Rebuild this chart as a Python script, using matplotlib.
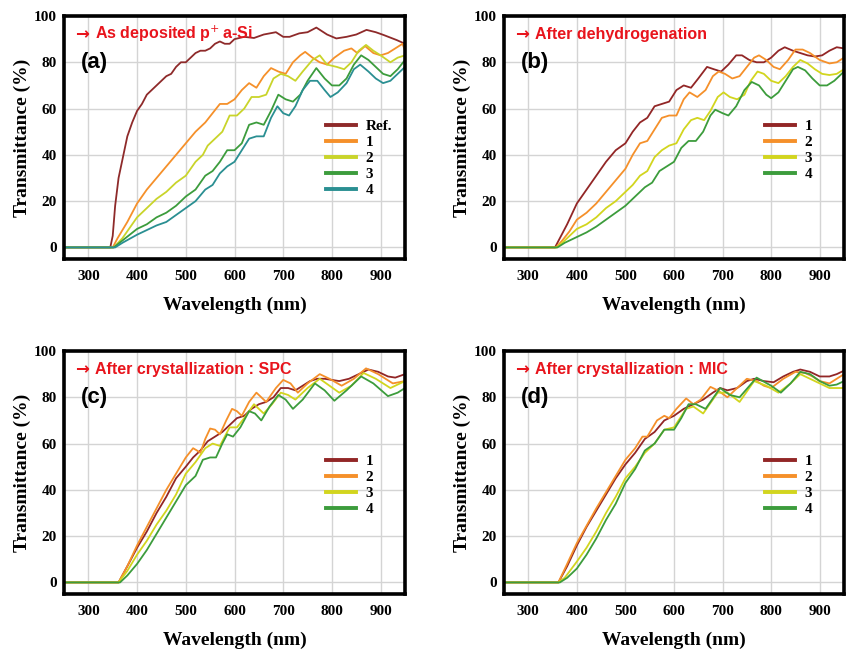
import matplotlib
matplotlib.use("Agg")
import matplotlib.pyplot as plt

# ---- panel (a): as deposited p+ a-Si ----
a_ref_wl = [250, 345, 350, 355, 362, 370, 380, 390, 400, 410, 420, 430, 440, 450, 460, 470, 480, 490,
            500, 510, 520, 530, 540, 550, 560, 570, 580, 590, 600, 620, 640, 660, 685, 700, 713, 733,
            750, 768, 790, 809, 830, 850, 871, 890, 906, 933, 950]
a_ref_t = [0, 0, 5, 18, 30, 38, 48, 54, 59, 62, 66, 68, 70, 72, 74, 75, 78, 80,
           80, 82, 84, 85, 85, 86, 88, 89, 88, 88, 90, 91, 90.5, 92, 93, 91, 91, 92.5,
           93, 95, 92, 90.3, 91, 92, 94, 93, 91.8, 89.6, 88]
a_1_wl = [250, 350, 360, 380, 400, 420, 440, 460, 480, 500, 520, 540, 555, 570, 585, 600, 615, 630,
          645, 660, 675, 690, 705, 720, 735, 745, 760, 775, 790, 805, 825, 840, 852, 868, 885, 900,
          915, 930, 945, 950]
a_1_t = [0, 0, 4, 11, 19, 25, 30, 35, 40, 45, 50, 54, 58, 62, 62, 64, 68, 71,
         69, 74, 77.5, 76, 75, 80, 83, 84.5, 82, 80, 79, 82, 85, 86, 84, 87, 84, 83,
         84, 86, 88, 85]
a_2_wl = [250, 352, 370, 400, 420, 440, 460, 480, 500, 520, 535, 545, 560, 575, 590, 605, 620, 635,
          650, 665, 680, 695, 710, 725, 740, 760, 775, 790, 810, 825, 840, 855, 870, 885, 900, 920,
          935, 950]
a_2_t = [0, 0, 4, 13, 17, 21, 24, 28, 31, 37, 40, 44, 47, 50, 57, 57, 60, 65,
         65, 66, 73, 75, 74, 72, 76, 81, 83, 79, 78, 77, 80, 85, 87.5, 85, 83, 80,
         82, 83]
a_3_wl = [250, 352, 370, 400, 420, 440, 460, 480, 500, 520, 540, 555, 570, 585, 600, 615, 630, 645,
          660, 675, 690, 705, 720, 735, 750, 768, 785, 800, 815, 830, 845, 860, 875, 890, 905, 920,
          935, 950]
a_3_t = [0, 0, 3, 8, 10, 13, 15, 18, 22, 25, 31, 33, 37, 42, 42, 45, 53, 54,
         53, 59, 66, 64, 63, 66, 72, 77.5, 73, 70, 70, 73, 79, 83, 81, 78, 75, 74,
         77, 81]
a_4_wl = [250, 355, 370, 400, 420, 440, 460, 480, 500, 520, 540, 555, 570, 585, 600, 615, 630, 645,
          660, 675, 688, 700, 712, 725, 740, 755, 770, 785, 797, 812, 830, 845, 858, 875, 890, 905,
          920, 935, 950]
a_4_t = [0, 0, 2, 5.5, 7.5, 9.5, 11, 14, 17, 20, 25, 27, 32, 35, 37, 42, 47, 48,
         48, 56, 61, 58, 57, 61, 68, 72, 72, 68, 65, 67, 71, 77, 79, 76, 73, 71,
         72, 75, 78]

# ---- panel (b): after dehydrogenation ----
b_1_wl = [250, 355, 365, 380, 400, 420, 440, 460, 480, 500, 515, 530, 545, 560, 575, 590, 605, 620,
          635, 650, 668, 682, 697, 712, 728, 740, 755, 770, 785, 800, 815, 828, 845, 860, 875, 890,
          905, 920, 935, 950]
b_1_t = [0, 0, 4, 10, 19, 25, 31, 37, 42, 45, 50, 54, 56, 61, 62, 63, 68, 70,
         69, 73, 78, 77, 76, 79, 83, 83, 81, 80, 80, 82, 85, 86.5, 85, 84, 83, 82.5,
         83, 85, 86.5, 86]
b_2_wl = [250, 357, 370, 385, 400, 420, 440, 460, 480, 500, 515, 530, 545, 560, 575, 590, 605, 620,
          632, 648, 665, 680, 692, 705, 720, 735, 750, 765, 775, 790, 805, 818, 835, 850, 865, 880,
          900, 920, 935, 950]
b_2_t = [0, 0, 3, 7, 12, 15, 19, 24, 29, 34, 40, 45, 46, 51, 56, 57, 57, 64,
         67, 65, 68, 74, 76, 75, 73, 74, 78, 82, 83, 81, 78, 77, 81, 85.5, 85.5, 84,
         81, 79.5, 80, 82]
b_3_wl = [250, 358, 370, 400, 420, 440, 460, 480, 500, 515, 530, 545, 560, 575, 590, 605, 620, 635,
          648, 662, 675, 690, 702, 715, 730, 745, 758, 772, 785, 800, 815, 830, 845, 860, 875, 890,
          905, 920, 935, 950]
b_3_t = [0, 0, 2, 8, 10, 13, 17, 20, 24, 27, 31, 33, 39, 42, 44, 45, 51, 55,
         56, 55, 59, 65, 67, 65, 64, 66, 72, 76, 75, 72, 71, 74, 78, 81, 79.5, 77,
         75, 74.5, 75, 77]
b_4_wl = [250, 360, 375, 400, 420, 440, 460, 480, 500, 520, 540, 555, 570, 585, 600, 615, 630, 645,
          660, 675, 685, 700, 712, 728, 745, 760, 775, 790, 800, 815, 830, 845, 855, 870, 885, 900,
          915, 930, 950]
b_4_t = [0, 0, 2, 4.5, 6.5, 9, 12, 15, 18, 22, 26, 28, 33, 35, 37, 43, 46, 46,
         50, 57, 59.5, 58, 57, 61, 68, 71.5, 70, 66, 64.5, 67, 72, 77, 78, 76.5, 73, 70,
         70, 72, 76]

# ---- panel (c): after crystallization, SPC ----
c_1_wl = [250, 362, 380, 400, 420, 440, 460, 480, 500, 515, 530, 545, 560, 575, 590, 605, 620, 635,
          650, 665, 680, 695, 710, 725, 740, 755, 770, 785, 800, 815, 835, 855, 875, 895, 915, 930,
          950]
c_1_t = [0, 0, 7, 15, 22, 30, 37, 45, 50, 54, 57, 61, 63, 65, 68, 71, 72, 75,
         77, 78, 80, 84, 84, 83, 85, 87, 88, 88, 87.5, 87, 88, 90, 92, 91, 89, 88.5,
         90]
c_2_wl = [250, 362, 380, 400, 420, 440, 460, 480, 500, 515, 523, 530, 540, 550, 560, 570, 583, 595,
          605, 615, 630, 645, 655, 665, 685, 700, 715, 730, 750, 775, 795, 820, 845, 870, 895, 925,
          950]
c_2_t = [0, 0, 7, 16, 24, 32, 40, 47, 54, 58, 57, 56, 62, 66.5, 66, 64, 70, 75,
         74, 72, 78, 82, 80, 78, 84, 87.5, 86, 82, 86, 90, 88, 85, 88, 92.5, 90, 86,
         87]
c_3_wl = [250, 362, 380, 400, 420, 440, 460, 480, 500, 520, 540, 555, 570, 590, 605, 620, 640, 660,
          677, 695, 710, 725, 750, 775, 795, 815, 840, 865, 890, 920, 950]
c_3_t = [0, 0, 5, 12, 18, 25, 31, 38, 47, 52, 58, 60, 59, 67, 67, 71, 77, 73,
         77, 82, 81, 79, 84, 88, 85, 82, 85, 90.5, 88, 84, 87]
c_4_wl = [250, 365, 380, 400, 420, 440, 460, 480, 500, 520, 535, 550, 562, 575, 585, 597, 612, 630,
          642, 655, 672, 690, 705, 720, 740, 765, 785, 805, 830, 860, 885, 915, 935, 950]
c_4_t = [0, 0, 3, 8, 14, 21, 28, 35, 42, 46, 53, 54, 54, 60, 64, 63, 67, 74,
         73, 70, 76, 81, 79, 75, 79, 86, 83, 78.5, 83, 89, 86, 80.5, 82, 84]

# ---- panel (d): after crystallization, MIC ----
d_1_wl = [250, 362, 380, 400, 420, 440, 460, 480, 500, 520, 540, 560, 580, 600, 620, 640, 660, 680,
          695, 710, 730, 750, 765, 785, 805, 825, 845, 860, 880, 900, 920, 935, 950]
d_1_t = [0, 0, 7, 16, 24, 31, 38, 45, 51, 56, 62, 65, 70, 72, 75, 77, 79, 82,
         84, 83, 84, 87, 88, 87, 86.5, 89, 91, 92, 91, 89, 89, 90, 91.5]
d_2_wl = [250, 362, 380, 400, 440, 480, 500, 520, 535, 545, 565, 580, 590, 605, 625, 640, 655, 675,
          690, 710, 730, 750, 770, 785, 800, 825, 850, 870, 885, 900, 920, 935, 950]
d_2_t = [0, 0, 8, 17, 32, 46, 53, 58, 63, 63, 70, 72, 71, 75, 79.5, 77, 79, 84.5,
         83, 80, 84, 88, 87, 85, 84, 88, 91, 90.5, 89, 87, 86, 88, 90]
d_3_wl = [250, 362, 375, 400, 420, 440, 460, 480, 500, 520, 540, 560, 580, 600, 625, 640, 660, 690,
          710, 735, 765, 790, 815, 840, 860, 880, 900, 920, 950]
d_3_t = [0, 0, 2, 9, 15, 22, 30, 37, 45, 50, 56, 60, 66, 67, 75, 76, 73, 82,
         82, 78, 87, 85, 82, 86, 90, 88, 86, 84, 84]
d_4_wl = [250, 365, 380, 400, 420, 440, 460, 480, 500, 520, 540, 560, 580, 600, 615, 630, 645, 665,
          695, 715, 735, 770, 800, 820, 840, 860, 880, 900, 920, 935, 950]
d_4_t = [0, 0, 2, 6, 12, 19, 27, 34, 43, 49, 57, 60, 66, 66, 71, 77, 77, 75,
         84, 81, 80, 88.5, 85, 82, 86, 91, 90, 87, 85, 85.5, 87]

a_labels = ["Ref.", "1", "2", "3", "4"]
bcd_labels = ["1", "2", "3", "4"]
a_colors = ["#8e2a2a", "#f5902a", "#c9d42a", "#3c9c3c", "#2a8f92"]
bcd_colors = ["#922626", "#f5902a", "#d2d51e", "#3c9c3c"]

titles = ["As deposited p$^{+}\\,$a-Si", "After dehydrogenation",
          "After crystallization : SPC", "After crystallization : MIC"]
letters = ["(a)", "(b)", "(c)", "(d)"]

panels = [
    ([(a_ref_wl, a_ref_t), (a_1_wl, a_1_t), (a_2_wl, a_2_t), (a_3_wl, a_3_t), (a_4_wl, a_4_t)], a_labels, a_colors),
    ([(b_1_wl, b_1_t), (b_2_wl, b_2_t), (b_3_wl, b_3_t), (b_4_wl, b_4_t)], bcd_labels, bcd_colors),
    ([(c_1_wl, c_1_t), (c_2_wl, c_2_t), (c_3_wl, c_3_t), (c_4_wl, c_4_t)], bcd_labels, bcd_colors),
    ([(d_1_wl, d_1_t), (d_2_wl, d_2_t), (d_3_wl, d_3_t), (d_4_wl, d_4_t)], bcd_labels, bcd_colors),
]

# axes boxes in pixels (left, top, width, height)
W, H = 855, 652
boxes = [(64, 16, 341, 243), (504, 16, 340, 243), (64, 351, 341, 243), (504, 351, 340, 243)]

serif = "Liberation Serif"
red = "#e8141c"
fig = plt.figure(figsize=(W / 100, H / 100), dpi=100)

for i, (series, labels, colors) in enumerate(panels):
    x0, y0, bw, bh = boxes[i]
    ax = fig.add_axes([x0 / W, 1 - (y0 + bh) / H, bw / W, bh / H])
    for (wl, t), lab, col in zip(series, labels, colors):
        ax.plot(wl, t, color=col, lw=1.3, label=lab)
    ax.set_xlim(250, 950)
    ax.set_ylim(-5, 100)
    ax.set_xticks(range(300, 1000, 100))
    ax.set_yticks(range(0, 120, 20))
    ax.grid(True, color="#d4d4d4", lw=1.0)
    ax.set_axisbelow(True)
    ax.tick_params(length=0, pad=5, labelsize=11)
    ax.tick_params(axis="x", pad=8)
    for lab in ax.get_xticklabels() + ax.get_yticklabels():
        lab.set_fontfamily(serif)
        lab.set_fontweight("bold")
    for sp in ax.spines.values():
        sp.set_linewidth(2.6)
        sp.set_color("black")
    ax.set_xlabel("Wavelength (nm)", fontfamily=serif, fontweight="bold", fontsize=14, labelpad=10)
    ax.set_ylabel("Transmittance (%)", fontfamily=serif, fontweight="bold", fontsize=14, labelpad=2)
    # red caption: arrow drawn in DejaVu (bigger glyph), words in Liberation Sans
    ax.text(0.033, 0.925, "\u2192", transform=ax.transAxes, color=red,
            fontfamily="DejaVu Sans", fontweight="bold", fontsize=12, va="center")
    ax.text(0.092, 0.925, titles[i], transform=ax.transAxes, color=red,
            fontfamily="Liberation Sans", fontweight="bold", fontsize=11.5, va="center")
    ax.text(0.05, 0.81, letters[i], transform=ax.transAxes, color="black",
            fontfamily="Liberation Sans", fontweight="bold", fontsize=16, va="center")
    leg = ax.legend(loc="upper left", bbox_to_anchor=(0.727, 0.63),
                    frameon=False, handlelength=2.0, handletextpad=0.6, labelspacing=0.15,
                    prop={"family": serif, "weight": "bold", "size": 11})
    for ln in leg.get_lines():
        ln.set_linewidth(2.8)

fig.savefig("out.png", dpi=100)
